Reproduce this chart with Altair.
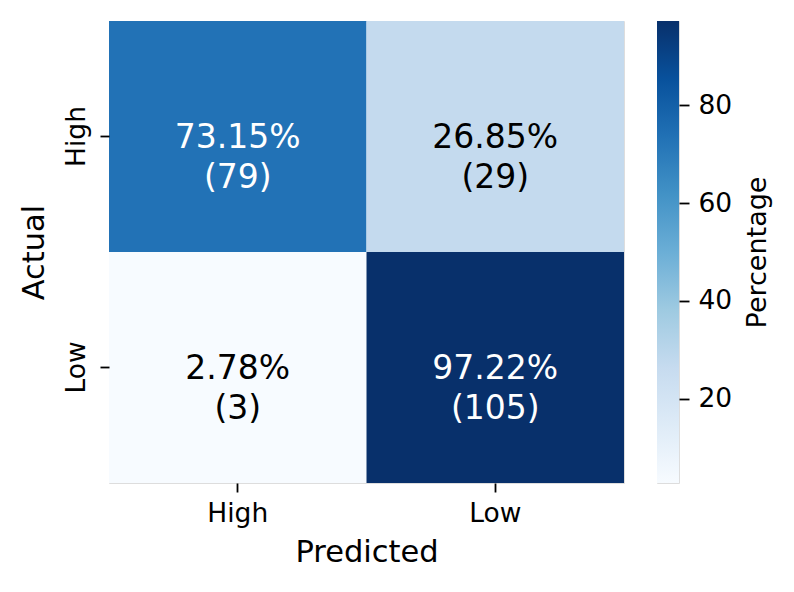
import altair as alt
import pandas as pd

# ---- data ----
actual = ["High", "High", "Low", "Low"]
predicted = ["High", "Low", "High", "Low"]
percentages = [73.15, 26.85, 2.78, 97.22]
counts = [79, 29, 3, 105]
categories = ["High", "Low"]
colorbar_ticks = [20, 40, 60, 80]
blues = ["#f7fbff", "#deebf7", "#c6dbef", "#9ecae1", "#6baed6",
         "#4292c6", "#2171b5", "#08519c", "#08306b"]

df = pd.DataFrame({
    "actual": actual,
    "predicted": predicted,
    "pct": percentages,
    "count": counts,
})
df["pct_label"] = [f"{p:.2f}%" for p in percentages]
df["count_label"] = [f"({c})" for c in counts]

lo, hi = min(percentages), max(percentages)
stops = [lo + (hi - lo) * i / (len(blues) - 1) for i in range(len(blues))]
color_scale = alt.Scale(type="linear", domain=stops, range=blues, interpolate="rgb")

FONT = "DejaVu Sans"
W, H = 515, 462

base = alt.Chart(df).encode(
    x=alt.X("predicted:N", sort=categories, title="Predicted",
            scale=alt.Scale(paddingInner=0, paddingOuter=0),
            axis=alt.Axis(labelAngle=0, labelFontSize=26.5, titleFontSize=30.5,
                          tickSize=9, tickWidth=1.8, tickColor="black",
                          labelPadding=8, titlePadding=11, domain=False,
                          labelColor="black", titleColor="black",
                          titleFontWeight="normal")),
    y=alt.Y("actual:N", sort=categories, title="Actual",
            scale=alt.Scale(paddingInner=0, paddingOuter=0),
            axis=alt.Axis(labelAngle=270, labelFontSize=26.5, titleFontSize=30.5,
                          tickSize=9, tickWidth=1.8, tickColor="black",
                          labelPadding=10, titlePadding=14, domain=False,
                          labelColor="black", titleColor="black",
                          titleFontWeight="normal")),
)

rect = base.mark_rect().encode(
    color=alt.Color("pct:Q", scale=color_scale, legend=None)
)

text_color = alt.condition(alt.datum.pct > 50, alt.value("white"), alt.value("black"))

text1 = base.mark_text(fontSize=33, font=FONT, baseline="middle", dy=1).encode(
    text="pct_label:N", color=text_color
)
text2 = base.mark_text(fontSize=33, font=FONT, baseline="middle", dy=41).encode(
    text="count_label:N", color=text_color
)

heat = alt.layer(rect, text1, text2).properties(width=W, height=H)

cb_df = pd.DataFrame({"lo": [lo], "hi": [hi]})
gradient = alt.LinearGradient(
    gradient="linear",
    stops=[alt.GradientStop(offset=i / (len(blues) - 1), color=c) for i, c in enumerate(blues)],
    x1=0, x2=0, y1=1, y2=0,
)
colorbar = alt.Chart(cb_df).mark_rect(color=gradient).encode(
    y=alt.Y("lo:Q", scale=alt.Scale(domain=[lo, hi], nice=False, zero=False),
            title="Percentage",
            axis=alt.Axis(orient="right", values=colorbar_ticks, domain=False, grid=False,
                          tickSize=10, tickWidth=1.8, tickColor="black",
                          labelFontSize=26.5, labelPadding=9, labelColor="black",
                          titleFontSize=27, titleAngle=270, titleBaseline="top",
                          titlePadding=13,
                          titleColor="black", titleFontWeight="normal")),
    y2="hi:Q",
    x=alt.value(0),
    x2=alt.value(22),
).properties(width=22, height=H)

chart = alt.hconcat(heat, colorbar, spacing=31).properties(
    padding={"left": 10, "top": 12, "right": 5, "bottom": 5}
).configure_view(strokeWidth=0).configure(font=FONT)

chart.save("out.html", embed_options={"renderer": "svg", "actions": False})
